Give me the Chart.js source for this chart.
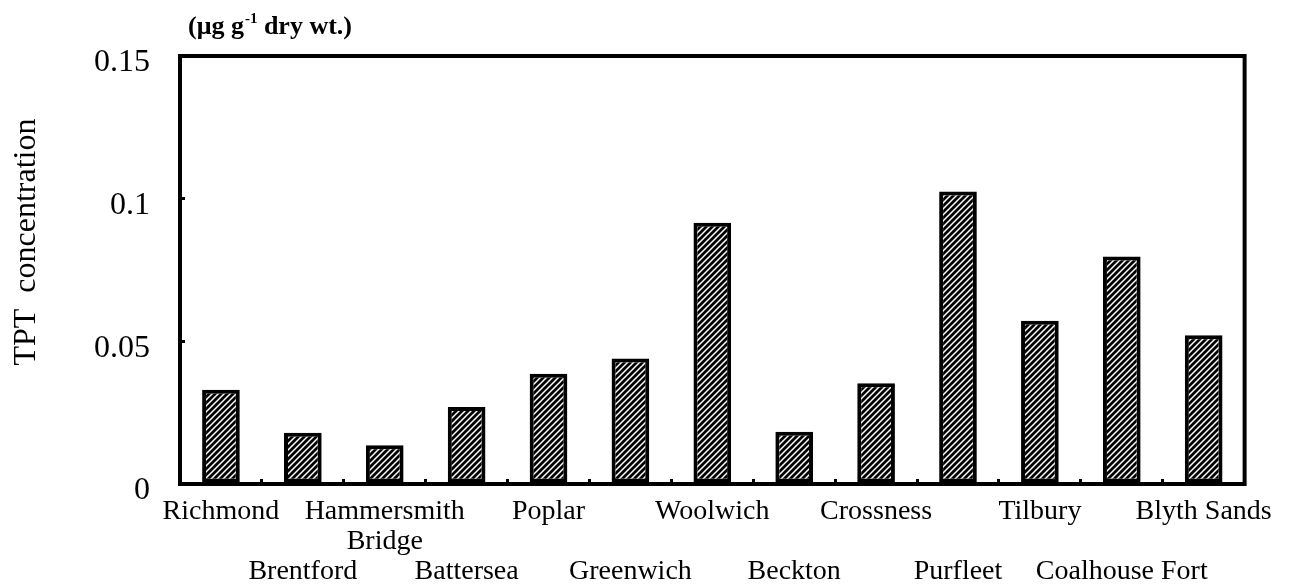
<!DOCTYPE html>
<html>
<head>
<meta charset="utf-8">
<title>TPT concentration</title>
<script src="https://cdn.jsdelivr.net/npm/chart.js@4/dist/chart.umd.min.js"></script>
<style>
    html, body { margin: 0; padding: 0; background: #fff; }
    #wrap { width: 1291px; height: 584px; position: relative; }
</style>
</head>
<body>
<div id="wrap"><canvas id="tptChart"></canvas></div>
<script>
// Данные
const categories = ['Richmond', 'Brentford', ['Hammersmith', 'Bridge'], 'Battersea', 'Poplar',
    'Greenwich', 'Woolwich', 'Beckton', 'Crossness', 'Purfleet', 'Tilbury', 'Coalhouse Fort', 'Blyth Sands'];
const tptValues = [0.033, 0.018, 0.0136, 0.027, 0.0386, 0.044, 0.0916, 0.0183, 0.0353, 0.1025, 0.0572, 0.0797, 0.0521];
const yTicks = [0, 0.05, 0.1, 0.15];
const yTitle = 'TPT  concentration';
const unitParts = ['(\u03bcg g', '-1', ' dry wt.)'];

const serif = '"Liberation Serif", "Times New Roman", serif';

// Штриховка столбцов
function makeHatch() {
    const size = 6;
    const c = document.createElement('canvas');
    c.width = size;
    c.height = size;
    const g = c.getContext('2d');
    g.fillStyle = '#000';
    g.fillRect(0, 0, size, size);
    g.strokeStyle = '#fff';
    g.lineWidth = 1.5;
    g.beginPath();
    g.moveTo(-1, size + 1);
    g.lineTo(size + 1, -1);
    g.moveTo(-1, 1);
    g.lineTo(1, -1);
    g.moveTo(size - 1, size + 1);
    g.lineTo(size + 1, size - 1);
    g.stroke();
    return g.createPattern(c, 'repeat');
}

// Рамка и подписи
const framePlugin = {
    id: 'frame',
    afterDraw(chart) {
        const ctx = chart.ctx;
        const a = chart.chartArea;
        ctx.save();
        ctx.strokeStyle = '#000';
        ctx.lineWidth = 4;
        ctx.strokeRect(a.left, a.top, a.right - a.left, a.bottom - a.top);

        // подпись оси Y
        ctx.fillStyle = '#000';
        ctx.font = '32px ' + serif;
        ctx.textAlign = 'center';
        ctx.textBaseline = 'middle';
        ctx.translate(27, 242);
        ctx.rotate(-Math.PI / 2);
        ctx.fillText(yTitle, 0, 0);
        ctx.restore();

        // единицы измерения
        ctx.save();
        ctx.fillStyle = '#000';
        ctx.textBaseline = 'alphabetic';
        ctx.textAlign = 'left';
        let x = 188;
        ctx.font = 'bold 26px ' + serif;
        ctx.fillText(unitParts[0], x, 34);
        x += ctx.measureText(unitParts[0]).width + 1;
        ctx.font = 'bold 15px ' + serif;
        ctx.fillText(unitParts[1], x, 23);
        x += ctx.measureText(unitParts[1]).width;
        ctx.font = 'bold 26px ' + serif;
        ctx.fillText(unitParts[2], x, 34);
        ctx.restore();
    }
};

function initChart() {
    const ctx = document.getElementById('tptChart').getContext('2d');

    new Chart(ctx, {
        type: 'bar',
        data: {
            labels: categories,
            datasets: [{
                data: tptValues,
                backgroundColor: makeHatch(),
                borderColor: '#000',
                borderWidth: 4,
                borderSkipped: false,
                barPercentage: 0.46,
                categoryPercentage: 1
            }]
        },
        options: {
            responsive: true,
            maintainAspectRatio: false,
            animation: false,
            layout: { padding: { top: 56, right: 33, left: 0, bottom: 0 } },
            plugins: {
                legend: { display: false },
                tooltip: { enabled: false }
            },
            scales: {
                x: {
                    border: { display: false },
                    grid: {
                        drawOnChartArea: false,
                        drawTicks: true,
                        tickLength: -5,
                        color: '#000',
                        lineWidth: 3
                    },
                    ticks: {
                        autoSkip: false,
                        maxRotation: 0,
                        minRotation: 0,
                        padding: 18,
                        color: '#000',
                        font: { family: serif, size: 28, lineHeight: '30px' },
                        callback: function (value, i) {
                            const l = categories[i];
                            const lines = Array.isArray(l) ? l : [l];
                            return i % 2 ? ['', ''].concat(lines) : lines;
                        }
                    },
                    afterFit(scale) { scale.height = 100; }
                },
                y: {
                    min: 0,
                    max: 0.15,
                    border: { display: false },
                    grid: {
                        drawOnChartArea: false,
                        drawTicks: true,
                        tickLength: -5,
                        color: '#000',
                        lineWidth: 3
                    },
                    afterBuildTicks(scale) {
                        scale.ticks = yTicks.map(v => ({ value: v }));
                    },
                    ticks: {
                        padding: 35,
                        labelOffset: 7,
                        color: '#000',
                        font: { family: serif, size: 32 },
                        callback: v => String(v)
                    },
                    afterFit(scale) { scale.width = 180; }
                }
            }
        },
        plugins: [framePlugin]
    });
}

window.addEventListener('DOMContentLoaded', initChart);
</script>
</body>
</html>
